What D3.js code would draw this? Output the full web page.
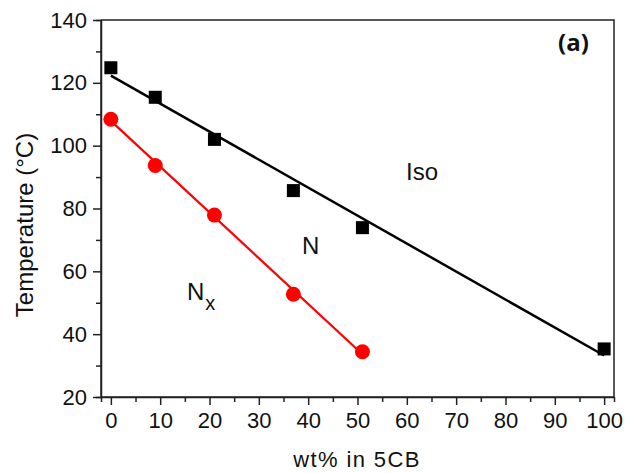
<!DOCTYPE html>
<html>
<head>
<meta charset="utf-8">
<script src="https://cdn.jsdelivr.net/npm/d3@7"></script>
<style>
  body { margin: 0; background: #fff; }
</style>
</head>
<body>
<div id="chart"></div>
<script>
// Iso -> N transition (black squares) and N -> Nx transition (red circles)
var isoX = [0, 9, 21, 37, 51, 100];
var isoT = [124.8, 115.4, 102, 85.7, 73.9, 35.3];
var nxX = [0, 9, 21, 37, 51];
var nxT = [108.4, 93.7, 77.9, 52.7, 34.4];

// linear fit endpoints
var isoFitX = [0, 100];
var isoFitT = [122.3, 33.2];
var nxFitX = [0, 51];
var nxFitT = [107.9, 33.6];

var xTicks = [0, 10, 20, 30, 40, 50, 60, 70, 80, 90, 100];
var yTicks = [20, 40, 60, 80, 100, 120, 140];

(function() {
    var width = 625,
        height = 473;
    var margin = {top: 20, right: 11, bottom: 76, left: 101};

    var svg = d3.select("#chart")
        .append("svg")
        .attr("width", width)
        .attr("height", height)
        .style("font-family", "'Liberation Sans', Arial, sans-serif");

    var x = d3.scaleLinear().domain([-2, 102]).range([margin.left, width - margin.right]);
    var y = d3.scaleLinear().domain([20, 140]).range([height - margin.bottom, margin.top]);

    // frame: top and right edges, no ticks
    svg.append("path")
        .attr("d", "M" + x.range()[0] + "," + y.range()[1] + "H" + x.range()[1] + "V" + y.range()[0])
        .attr("fill", "none")
        .attr("stroke", "#222")
        .attr("stroke-width", 1.5);

    // minor ticks
    var xAxisMinor = d3.axisBottom(x).tickValues(d3.range(5, 100, 10)).tickSize(5).tickFormat("");
    var yAxisMinor = d3.axisLeft(y).tickValues(d3.range(30, 140, 20)).tickSize(5).tickFormat("");

    svg.append("g")
        .attr("transform", "translate(0," + y.range()[0] + ")")
        .call(xAxisMinor);
    svg.append("g")
        .attr("transform", "translate(" + x.range()[0] + ",0)")
        .call(yAxisMinor);

    var xAxis = d3.axisBottom(x).tickValues(xTicks).tickSize(8).tickPadding(7);
    var yAxis = d3.axisLeft(y).tickValues(yTicks).tickSize(8).tickPadding(6);

    var gx = svg.append("g")
        .attr("class", "axis")
        .attr("transform", "translate(0," + y.range()[0] + ")")
        .call(xAxis);
    var gy = svg.append("g")
        .attr("class", "axis")
        .attr("transform", "translate(" + x.range()[0] + ",0)")
        .call(yAxis);

    svg.selectAll(".domain, .tick line")
        .attr("stroke", "#222")
        .attr("stroke-width", 1.5);
    svg.selectAll(".axis .tick text")
        .attr("font-size", 22)
        .attr("font-family", "'Liberation Sans', Arial, sans-serif")
        .attr("fill", "#111");
    // extend domain lines so the corners are closed like the frame
    gx.select(".domain").attr("d", "M" + x.range()[0] + ",0H" + x.range()[1]);
    gy.select(".domain").attr("d", "M0," + y.range()[1] + "V" + y.range()[0]);

    // axis titles
    svg.append("text")
        .attr("x", 357)
        .attr("y", 467)
        .attr("text-anchor", "middle")
        .attr("font-size", 22)
        .attr("letter-spacing", 1.4)
        .attr("fill", "#111")
        .text("wt% in 5CB");

    svg.append("text")
        .attr("transform", "translate(33,225) rotate(-90)")
        .attr("text-anchor", "middle")
        .attr("font-size", 24)
        .attr("fill", "#111")
        .text("Temperature (\u00B0C)");

    // fit lines
    var line = d3.line()
        .x(function(d) { return x(d[0]); })
        .y(function(d) { return y(d[1]); });

    svg.append("path")
        .datum(d3.zip(isoFitX, isoFitT))
        .attr("d", line)
        .attr("fill", "none")
        .attr("stroke", "#000")
        .attr("stroke-width", 2.5);

    svg.append("path")
        .datum(d3.zip(nxFitX, nxFitT))
        .attr("d", line)
        .attr("fill", "none")
        .attr("stroke", "#ff0000")
        .attr("stroke-width", 2.2);

    // markers
    var sq = 13;
    svg.selectAll(".sq")
        .data(d3.zip(isoX, isoT))
        .enter().append("rect")
        .attr("class", "sq")
        .attr("x", function(d) { return x(d[0]) - sq / 2; })
        .attr("y", function(d) { return y(d[1]) - sq / 2; })
        .attr("width", sq)
        .attr("height", sq)
        .attr("fill", "#000");

    svg.selectAll(".dot")
        .data(d3.zip(nxX, nxT))
        .enter().append("circle")
        .attr("class", "dot")
        .attr("cx", function(d) { return x(d[0]); })
        .attr("cy", function(d) { return y(d[1]); })
        .attr("r", 7.5)
        .attr("fill", "#ff0000");

    // phase labels
    svg.append("text")
        .attr("x", 406)
        .attr("y", 180)
        .attr("font-size", 24)
        .attr("fill", "#111")
        .text("Iso");

    svg.append("text")
        .attr("x", 302)
        .attr("y", 254)
        .attr("font-size", 24)
        .attr("fill", "#111")
        .text("N");

    var nx = svg.append("text")
        .attr("x", 187)
        .attr("y", 300)
        .attr("font-size", 24)
        .attr("fill", "#111");
    nx.append("tspan").text("N");
    nx.append("tspan")
        .attr("dx", 1)
        .attr("dy", 10)
        .attr("font-size", 20)
        .text("x");

    svg.append("text")
        .attr("x", 558)
        .attr("y", 51)
        .attr("font-size", 24)
        .attr("font-weight", "bold")
        .attr("font-family", "'Open Sans', sans-serif")
        .attr("fill", "#111")
        .text("(a)");
})();
</script>
</body>
</html>
